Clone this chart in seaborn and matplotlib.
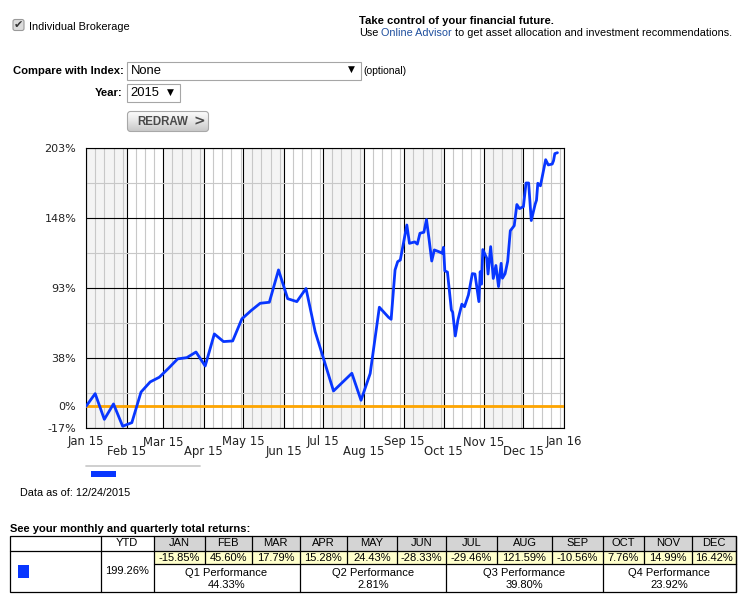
import numpy as np
import pandas as pd
import matplotlib
matplotlib.use("Agg")
import matplotlib.pyplot as plt
import matplotlib.patches as mpatches
from matplotlib.colors import LinearSegmentedColormap
import seaborn as sns

# ---------------- data ----------------
dates = [
    "2015-01-01", "2015-01-08", "2015-01-15", "2015-01-22", "2015-01-29",
    "2015-02-05", "2015-02-12", "2015-02-19", "2015-02-26", "2015-03-05",
    "2015-03-12", "2015-03-19", "2015-03-26", "2015-04-02", "2015-04-09",
    "2015-04-16", "2015-04-23", "2015-04-30", "2015-05-07", "2015-05-14",
    "2015-05-21", "2015-05-28", "2015-06-04", "2015-06-11", "2015-06-18",
    "2015-06-25", "2015-07-09", "2015-07-23", "2015-07-30", "2015-08-06",
    "2015-08-13", "2015-08-20", "2015-08-22", "2015-08-25", "2015-08-27",
    "2015-08-29", "2015-09-03", "2015-09-05", "2015-09-09", "2015-09-11",
    "2015-09-13", "2015-09-16", "2015-09-18", "2015-09-20", "2015-09-22",
    "2015-09-24", "2015-09-28", "2015-09-30", "2015-10-01", "2015-10-02",
    "2015-10-04", "2015-10-07", "2015-10-08", "2015-10-10", "2015-10-12",
    "2015-10-15", "2015-10-17", "2015-10-20", "2015-10-23", "2015-10-25",
    "2015-10-28", "2015-10-29", "2015-10-30", "2015-10-31", "2015-11-03",
    "2015-11-04", "2015-11-06", "2015-11-08", "2015-11-10", "2015-11-12",
    "2015-11-14", "2015-11-15", "2015-11-17", "2015-11-19", "2015-11-21",
    "2015-11-24", "2015-11-26", "2015-11-28", "2015-12-01", "2015-12-03",
    "2015-12-05", "2015-12-07", "2015-12-10", "2015-12-11", "2015-12-12",
    "2015-12-14", "2015-12-18", "2015-12-20", "2015-12-23", "2015-12-24",
    "2015-12-25", "2015-12-27",
]
values = [
    0.0, 10.0, -10.2, 1.9, -15.6,
    -12.8, 11.2, 19.2, 22.9, 29.9,
    37.3, 38.3, 42.7, 31.7, 56.9,
    50.9, 51.4, 68.7, 75.2, 81.0,
    81.8, 107.2, 84.6, 82.3, 92.6,
    58.7, 12.1, 26.0, 4.8, 25.8,
    77.9, 70.0, 68.4, 107.2, 113.7,
    115.0, 142.5, 128.1, 129.2, 127.5,
    136.0, 136.8, 146.8, 131.0, 114.2,
    122.9, 121.3, 120.3, 125.0, 106.5,
    105.5, 75.7, 74.0, 55.3, 67.9,
    80.3, 78.3, 87.5, 104.3, 104.0,
    82.3, 105.8, 96.0, 123.2, 116.4,
    104.0, 125.5, 100.5, 110.7, 94.1,
    112.4, 100.7, 104.2, 114.0, 138.0,
    142.0, 158.6, 155.4, 156.9, 175.5,
    175.5, 146.0, 158.9, 162.0, 175.3,
    173.3, 193.8, 189.7, 190.4, 193.0,
    198.6, 199.3,
]
y_ticks = [-17, 0, 38, 93, 148, 203]
y_minor = [10.5, 65.5, 120.5, 175.5]
month_labels = ["Jan 15", "Feb 15", "Mar 15", "Apr 15", "May 15", "Jun 15",
                "Jul 15", "Aug 15", "Sep 15", "Oct 15", "Nov 15", "Dec 15", "Jan 16"]
table_months = ["JAN", "FEB", "MAR", "APR", "MAY", "JUN",
                "JUL", "AUG", "SEP", "OCT", "NOV", "DEC"]
monthly_returns = ["-15.85%", "45.60%", "17.79%", "15.28%", "24.43%", "-28.33%",
                   "-29.46%", "121.59%", "-10.56%", "7.76%", "14.99%", "16.42%"]
quarter_names = ["Q1 Performance", "Q2 Performance", "Q3 Performance", "Q4 Performance"]
quarter_returns = ["44.33%", "2.81%", "39.80%", "23.92%"]
ytd_return = "199.26%"
as_of = "12/24/2015"

# ---------------- styles ----------------
sns.set_style("white")
plt.rcParams["font.family"] = ["DejaVu Sans"]
ARIAL = "Liberation Sans"
BLUE = "#0836ff"

W, H = 742, 603
fig = plt.figure(figsize=(W / 100, H / 100), dpi=100)
fig.patch.set_facecolor("white")

# page overlay in pixel coordinates
page = fig.add_axes([0, 0, 1, 1])
page.set_xlim(0, W)
page.set_ylim(H, 0)
page.axis("off")


def T(x, y, s, size=8.0, weight="normal", color="black", ha="left", va="center",
      family=ARIAL, **kw):
    return page.text(x, y, s, fontsize=size, fontweight=weight, color=color,
                     ha=ha, va=va, family=family, **kw)


# checkbox
page.add_patch(mpatches.FancyBboxPatch((13, 19.5), 11, 11,
               boxstyle="round,pad=0,rounding_size=2", fc="#dcdcdc", ec="#9a9a9a", lw=0.8))
T(18.6, 25, "\u2714", size=8, family="DejaVu Sans", color="#333333", ha="center")
T(29, 26.8, "Individual Brokerage", size=7.9)

# top right texts
T(359, 21.5, "Take control of your financial future.", weight="bold", size=8.1)
fig.canvas.draw()
renderer = fig.canvas.get_renderer()


def right_edge(t):
    bb = t.get_window_extent(renderer)
    return page.transData.inverted().transform((bb.x1, bb.y0))[0]


t1 = T(359, 33.5, "Use", size=7.8)
x = right_edge(t1) + 3.0
t2 = T(x, 33.5, "Online Advisor", color="#1f4f9e", size=7.8)
x = right_edge(t2) + 3.0
T(x, 33.5, "to get asset allocation and investment recommendations.", size=7.8)

# compare with index dropdown
T(123.5, 71, "Compare with Index:", weight="bold", ha="right", size=8.1)
page.add_patch(mpatches.Rectangle((126.5, 62), 234, 17.5, fc="white", ec="#a6a6a6", lw=0.8))
T(131, 71, "None", size=9.4)
T(351.5, 69.8, "\u25BC", size=6.5, family="DejaVu Sans", ha="center")
T(363, 71.5, "(optional)", size=7.5)

# year dropdown
T(122.5, 93, "Year:", weight="bold", ha="right", size=8.1)
page.add_patch(mpatches.Rectangle((126.5, 83.5), 53.5, 18.5, fc="white", ec="#a6a6a6", lw=0.8))
T(130.5, 93, "2015", size=9.4)
T(170.5, 92, "\u25BC", size=6.5, family="DejaVu Sans", ha="center")

# redraw button
btn = mpatches.FancyBboxPatch((127.5, 111.5), 81, 20,
                              boxstyle="round,pad=0,rounding_size=3",
                              fc="none", ec="#a8a8a8", lw=0.8, zorder=3)
page.add_patch(btn)
grad = np.linspace(0, 1, 60).reshape(-1, 1)
cmap = LinearSegmentedColormap.from_list("btn", ["#fdfdfd", "#e6e6e6", "#c9c9c9"])
im = page.imshow(grad, extent=(127.5, 208.5, 131.5, 111.5), cmap=cmap,
                 aspect="auto", zorder=2, interpolation="bilinear")
im.set_clip_path(btn)
T(162.5, 121.8, "REDRAW", size=8.3, weight="bold", color="#4a4a4a", ha="center", zorder=4)
T(199.5, 121.5, ">", size=10, weight="bold", color="#4a4a4a", ha="center",
  family="DejaVu Sans", zorder=4)
page.set_xlim(0, W)
page.set_ylim(H, 0)

# legend-ish element under chart
page.plot([86, 200], [465.5, 465.5], color="#cccccc", lw=1.3)
page.add_patch(mpatches.Rectangle((91, 471), 25, 6, fc=BLUE, ec="none"))
T(20, 493.5, "Data as of: " + as_of, size=7.8)

# ---------------- table ----------------
T(10, 529.5, "See your monthly and quarterly total returns:", weight="bold")
tx0, tx1 = 10, 736
col_first, col_ytd = 100.5, 153.5
month_edges = [153.5, 204.5, 251.5, 299.5, 347, 396.5, 446, 497, 552, 603, 644, 692, 736]
ty0, ty_h, ty_v, ty1 = 535.5, 550.5, 564.3, 592.3
lw_t = 0.9

for i in range(12):
    xa, xb = month_edges[i], month_edges[i + 1]
    page.add_patch(mpatches.Rectangle((xa, ty0), xb - xa, ty_h - ty0, fc="#d4d4d4", ec="none"))
    page.add_patch(mpatches.Rectangle((xa, 552.0), xb - xa, ty_v - 552.0, fc="#ffffcc", ec="none"))
    T((xa + xb) / 2, 543.5, table_months[i], ha="center")
    T((xa + xb) / 2, 558.4, monthly_returns[i], ha="center")
    page.plot([xb, xb], [ty0, ty_v], color="black", lw=lw_t)

for q in range(4):
    xa, xb = month_edges[3 * q], month_edges[3 * q + 3]
    T((xa + xb) / 2, 573.5, quarter_names[q], ha="center")
    T((xa + xb) / 2, 585.3, quarter_returns[q], ha="center")
    page.plot([xb, xb], [ty_v, ty1], color="black", lw=lw_t)

page.add_patch(mpatches.Rectangle((tx0, ty0), tx1 - tx0, ty1 - ty0, fc="none", ec="black", lw=lw_t))
page.plot([col_first, col_first], [ty0, ty1], color="black", lw=lw_t)
page.plot([col_ytd, col_ytd], [ty0, ty1], color="black", lw=lw_t)
page.plot([tx0, tx1], [ty_h, ty_h], color="black", lw=lw_t)
page.plot([col_ytd, tx1], [ty_v, ty_v], color="black", lw=lw_t)
T((col_first + col_ytd) / 2, 543.5, "YTD", ha="center")
T((col_first + col_ytd) / 2, 571.5, ytd_return, ha="center")
page.add_patch(mpatches.Rectangle((17.5, 564.5), 11.5, 13, fc=BLUE, ec="none"))

# ---------------- chart ----------------
ax = fig.add_axes([86 / W, 1 - 428 / H, 478 / W, 280 / H])
ax.set_facecolor("white")
df = pd.DataFrame({"date": pd.to_datetime(dates), "value": values})

month_starts = pd.date_range("2015-01-01", "2016-01-01", freq="MS")
weekly = [d for m in month_starts[:-1] for d in
          [m + pd.Timedelta(days=k) for k in (7, 14, 21, 28)] if d.month == m.month]

for i in range(0, 12, 2):
    ax.axvspan(month_starts[i], month_starts[i + 1], color="#f4f4f4", lw=0, zorder=0)

sns.lineplot(data=df, x="date", y="value", ax=ax, color=BLUE, lw=2.0, zorder=4)
ax.axhline(0, color="#ffa500", lw=2.0, zorder=3)

ax.set_xlim(month_starts[0], month_starts[-1])
ax.set_ylim(-17, 203)
ax.set_xticks(month_starts)
ax.set_xticklabels([""] * len(month_starts))
ax.set_xticks(weekly, minor=True)
ax.set_yticks(y_ticks)
ax.set_yticklabels([f"{v}%" for v in y_ticks])
ax.set_yticks(y_minor, minor=True)
ax.set_axisbelow(True)
ax.grid(which="major", color="black", lw=0.8)
ax.grid(which="minor", color="#c8c8c8", lw=0.8)
ax.tick_params(axis="x", which="major", length=5, width=0.8, color="black", direction="out")
ax.tick_params(axis="y", which="major", length=6.5, width=0.8, color="black",
               direction="out", pad=0.5, labelsize=8, labelcolor="#222222")
ax.tick_params(which="minor", length=0)
ax.set_xlabel("")
ax.set_ylabel("")
for sp in ax.spines.values():
    sp.set_visible(True)
    sp.set_color("black")
    sp.set_linewidth(0.8)

xt = ax.get_xaxis_transform()
for i, (d, lab) in enumerate(zip(month_starts, month_labels)):
    yy = -0.05 if i % 2 == 0 else -0.0857
    ax.text(d, yy, lab, transform=xt, ha="center", va="center", fontsize=8.4,
            color="#222222", clip_on=False)

fig.savefig("out.png", dpi=100, facecolor="white")
